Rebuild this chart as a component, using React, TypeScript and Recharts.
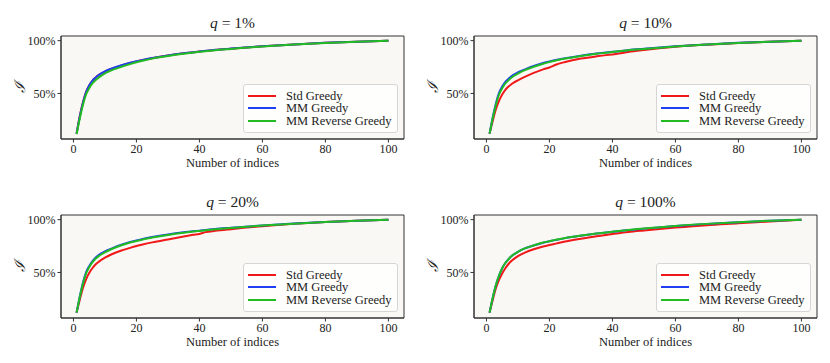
import { LineChart, Line, XAxis, YAxis, CartesianGrid, Legend, ReferenceArea } from 'recharts';

// number of indices at which the curves were read
const indices = [1, 2, 3, 4, 5, 6, 7, 8, 10, 12, 15, 18, 20, 22, 25, 30, 35, 38, 40, 42, 45, 50, 60, 70, 80, 90, 100];

// q = 1%
const q1Std = [12, 28.5, 41.5, 51.3, 57.5, 62, 65, 67.4, 70.8, 73.3, 76.3, 78.9, 80.4, 81.7, 83.4, 85.9, 88, 89, 89.7, 90.3, 91.2, 92.4, 94.6, 96.4, 97.9, 99, 100];
const q1Mm = [12, 28, 41, 51, 57.5, 62, 65, 67.5, 71, 73.5, 76.5, 79, 80.5, 81.8, 83.5, 86, 88, 89, 89.8, 90.4, 91.3, 92.5, 94.7, 96.4, 97.9, 99, 100];
const q1Rev = [11.5, 26, 39, 49, 55, 59.5, 62.5, 65, 69, 71.8, 75, 77.8, 79.5, 81, 83, 85.5, 87.6, 88.7, 89.4, 90, 91, 92.2, 94.5, 96.3, 97.8, 99, 100];

// q = 10%
const q10Std = [12, 24, 35, 43, 49, 53.5, 56.5, 59, 62.5, 65.5, 69.5, 72.8, 74.6, 77.2, 79.8, 83, 85.2, 86.3, 87, 87.8, 89.3, 91.2, 94.2, 96.2, 97.8, 99, 100];
const q10Mm = [12, 27.5, 40.5, 50.5, 56.5, 61, 64, 66.5, 70, 72.5, 76, 78.8, 80.3, 81.6, 83.3, 85.8, 87.8, 88.8, 89.4, 90, 91, 92.3, 94.6, 96.4, 97.9, 99, 100];
const q10Rev = [12, 26.5, 39, 49, 55, 59.5, 62.5, 65.2, 68.8, 71.8, 75.3, 78.2, 79.8, 81.2, 83, 85.5, 87.6, 88.6, 89.3, 89.9, 90.9, 92.2, 94.5, 96.3, 97.8, 99, 100];

// q = 20%
const q20Std = [12, 24, 35, 43.5, 49.5, 54, 57.5, 60, 64, 67, 70.5, 73.3, 75, 76.5, 78.5, 81.3, 84, 85.6, 86.5, 88.2, 89.4, 91, 93.8, 96, 97.7, 99, 100];
const q20Mm = [12, 27, 40, 50, 56, 60.5, 64, 66.5, 70, 72.5, 76, 78.8, 80.3, 81.7, 83.5, 86, 88, 89, 89.6, 90.2, 91.1, 92.3, 94.5, 96.3, 97.8, 99, 100];
const q20Rev = [12, 26.5, 39, 49, 55, 59.5, 63, 65.5, 69, 72, 75.5, 78.3, 79.8, 81.3, 83, 85.5, 87.6, 88.7, 89.3, 89.9, 90.9, 92.2, 94.4, 96.2, 97.8, 99, 100];

// q = 100%
const q100Std = [12, 24, 35, 43, 49, 54, 58, 61, 65.5, 68.5, 72, 74.6, 76, 77.3, 79.3, 82, 84.3, 85.5, 86.5, 87.2, 88.3, 89.8, 92.5, 94.8, 96.5, 98.3, 100];
const q100Mm = [12, 26, 38, 47, 54, 59, 62.5, 65.5, 69.5, 72.5, 75.5, 78.2, 79.5, 80.8, 82.5, 84.8, 86.8, 87.8, 88.5, 89.1, 90.1, 91.5, 94, 96, 97.5, 99, 100];
const q100Rev = [12, 26, 38, 47, 54, 59, 62.5, 65.5, 69.5, 72.5, 75.6, 78.3, 79.6, 80.9, 82.6, 84.9, 86.9, 87.9, 88.6, 89.2, 90.2, 91.6, 94.1, 96, 97.6, 99, 100];

const xTicks = [0, 20, 40, 60, 80, 100];
const yTicks = [50, 100];

const SERIES = [
  { key: 'std', name: 'Std Greedy', color: '#f01818' },
  { key: 'mm', name: 'MM Greedy', color: '#1f40f0' },
  { key: 'rev', name: 'MM Reverse Greedy', color: '#22bb22' },
];

const FONT = '"Liberation Serif", "DejaVu Serif", serif';
const INK = '#222';
const FRAME = '#333';
const X_DOMAIN: [number, number] = [-3.95, 104.95];
const Y_DOMAIN: [number, number] = [6.9, 104.4];

const panels = [
  { q: '1%', std: q1Std, mm: q1Mm, rev: q1Rev, left: 0, top: 0 },
  { q: '10%', std: q10Std, mm: q10Mm, rev: q10Rev, left: 413, top: 0 },
  { q: '20%', std: q20Std, mm: q20Mm, rev: q20Rev, left: 0, top: 179 },
  { q: '100%', std: q100Std, mm: q100Mm, rev: q100Rev, left: 413, top: 179 },
];

const LegendBox = () => (
  <div
    style={{
      position: 'relative',
      width: 153,
      height: 47,
      border: '1px solid #d6d6d6',
      borderRadius: 3,
      background: 'rgba(255,255,255,0.8)',
      fontFamily: FONT,
      fontSize: 12.5,
      color: INK,
    }}
  >
    {SERIES.map((s, i) => (
      <div
        key={s.key}
        style={{
          position: 'absolute',
          left: 4,
          top: 5 + i * 12.4,
          height: 12,
          display: 'flex',
          alignItems: 'center',
          whiteSpace: 'nowrap',
          lineHeight: '12px',
        }}
      >
        <span style={{ display: 'inline-block', width: 28, height: 2, background: s.color, marginRight: 10 }} />
        <span>{s.name}</span>
      </div>
    ))}
  </div>
);

function Panel({ q, std, mm, rev }: { q: string; std: number[]; mm: number[]; rev: number[] }) {
  const rows = indices.map((n, i) => ({ n, std: std[i], mm: mm[i], rev: rev[i] }));

  return (
    <LineChart width={415} height={180} data={rows} margin={{ top: 36, right: 11, bottom: 11, left: 21 }}>
      <CartesianGrid horizontal={false} vertical={false} fill="#f9f8f5" />
      <XAxis
        dataKey="n"
        type="number"
        domain={X_DOMAIN}
        allowDataOverflow
        ticks={xTicks}
        height={30}
        stroke={FRAME}
        tickSize={3.5}
        tickMargin={2}
        tick={{ fontSize: 12, fill: INK, fontFamily: FONT }}
        label={(p: any) => {
          const vb = p.viewBox;
          return (
            <text x={vb.x + vb.width / 2} y={vb.y + 28} textAnchor="middle" fontFamily={FONT} fontSize={12.5} fill={INK}>
              Number of indices
            </text>
          );
        }}
      />
      <YAxis
        type="number"
        domain={Y_DOMAIN}
        allowDataOverflow
        ticks={yTicks}
        width={40}
        stroke={FRAME}
        tickSize={3.5}
        tickMargin={2}
        tickFormatter={(v: number) => `${v}%`}
        tick={{ fontSize: 12, fill: INK, fontFamily: FONT }}
        label={(p: any) => {
          const vb = p.viewBox;
          const cx = vb.x - 1;
          const cy = vb.y + vb.height / 2;
          return (
            <text
              x={cx}
              y={cy}
              transform={`rotate(-90 ${cx} ${cy})`}
              textAnchor="middle"
              dominantBaseline="central"
              fontFamily={FONT}
              fontStyle="italic"
              fontSize={15}
              fill={INK}
            >
              ℐ
            </text>
          );
        }}
      />
      {/* frame around the plot area, with the panel title above it */}
      <ReferenceArea
        x1={X_DOMAIN[0]}
        x2={X_DOMAIN[1]}
        y1={Y_DOMAIN[0]}
        y2={Y_DOMAIN[1]}
        fill="none"
        fillOpacity={0}
        stroke={FRAME}
        strokeWidth={1}
        ifOverflow="visible"
        label={(p: any) => {
          const vb = p.viewBox;
          return (
            <text x={vb.x + vb.width / 2} y={vb.y - 8} textAnchor="middle" fontFamily={FONT} fontSize={15.5} fill={INK}>
              <tspan fontStyle="italic">q</tspan> = {q}
            </text>
          );
        }}
      />
      {SERIES.map((s) => (
        <Line
          key={s.key}
          type="monotone"
          dataKey={s.key}
          name={s.name}
          stroke={s.color}
          strokeWidth={2}
          dot={false}
          isAnimationActive={false}
        />
      ))}
      <Legend
        layout="vertical"
        align="center"
        verticalAlign="middle"
        content={() => <LegendBox />}
        wrapperStyle={{ position: 'absolute', left: 243, top: 84, width: 'auto', height: 'auto' }}
      />
    </LineChart>
  );
}

export default function App() {
  return (
    <div style={{ position: 'absolute', left: 0, top: 0, width: 830, height: 363, background: '#fff' }}>
      {panels.map((p) => (
        <div key={p.q} style={{ position: 'absolute', left: p.left, top: p.top }}>
          <Panel q={p.q} std={p.std} mm={p.mm} rev={p.rev} />
        </div>
      ))}
    </div>
  );
}
